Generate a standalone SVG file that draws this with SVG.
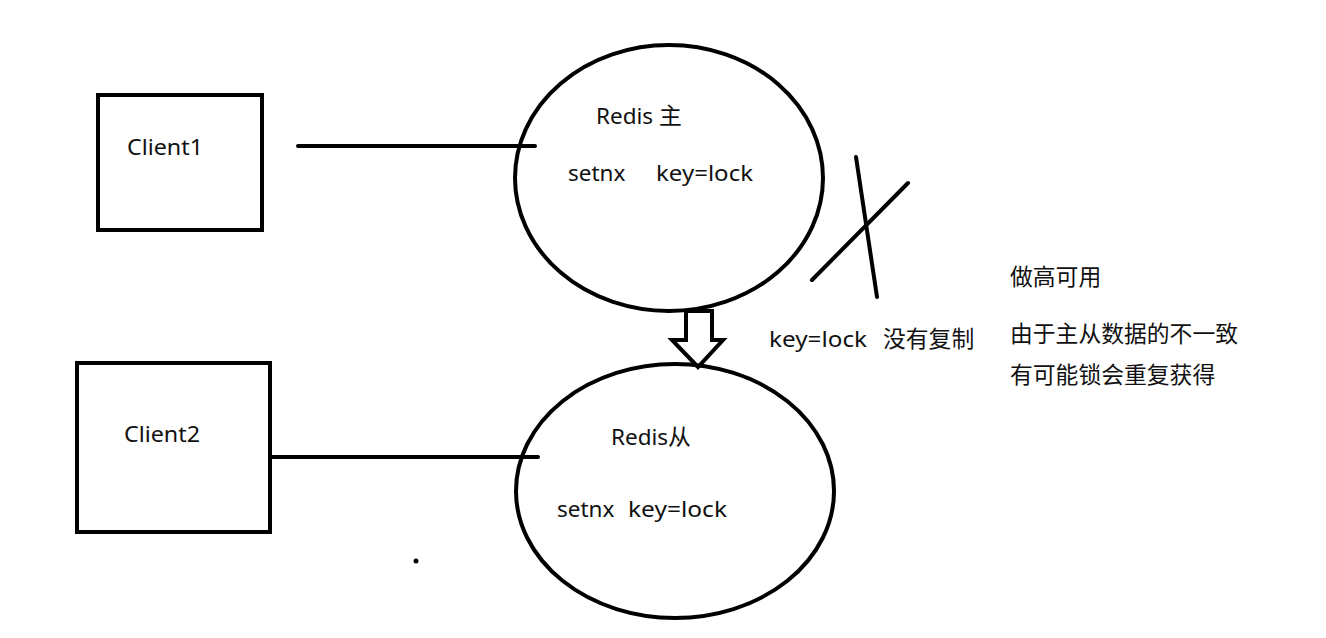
<svg xmlns="http://www.w3.org/2000/svg" width="1326" height="638" viewBox="0 0 1326 638">
<style>
.s{fill:none;stroke:#000;stroke-width:4}
.l{stroke:#000;stroke-width:4;stroke-linecap:round;fill:none}
text{font-family:"Noto Sans","Noto Sans CJK SC",sans-serif;font-size:22.5px;fill:#111}
.c{font-family:"Noto Sans CJK SC",sans-serif;font-size:22.8px}
</style>
<rect width="1326" height="638" fill="#fff"/>
<g id="client1">
<rect class="s" x="98" y="95" width="164" height="135"/>
<text x="127" y="155" textLength="76" lengthAdjust="spacingAndGlyphs">Client1</text>
</g>
<g id="client2">
<rect class="s" x="77" y="363" width="193" height="169"/>
<text x="124" y="442" textLength="76" lengthAdjust="spacingAndGlyphs">Client2</text>
</g>
<g id="redis-master">
<ellipse class="s" cx="669" cy="178" rx="154" ry="133"/>
<text x="596" y="124">Redis <tspan class="c">主</tspan></text>
<text x="568" y="181">setnx</text>
<text x="656" y="181" textLength="97" lengthAdjust="spacingAndGlyphs">key=lock</text>
</g>
<g id="redis-slave">
<ellipse class="s" cx="675" cy="491" rx="159" ry="127"/>
<text x="611" y="445">Redis<tspan class="c">从</tspan></text>
<text x="557" y="517">setnx</text>
<text x="628" y="517" textLength="99" lengthAdjust="spacingAndGlyphs">key=lock</text>
</g>
<g id="connectors">
<line class="l" x1="298" y1="146" x2="535" y2="146"/>
<line class="l" x1="272" y1="457" x2="538" y2="457"/>
<path class="s" stroke-linejoin="miter" d="M686,311 L712,311 L712,340 L723,340 L698,367 L672,340 L686,340 Z"/>
<line class="l" x1="856" y1="157" x2="877" y2="297"/>
<line class="l" x1="812" y1="280" x2="908" y2="183"/>
</g>
<g id="notes">
<text x="769" y="347" textLength="98" lengthAdjust="spacingAndGlyphs">key=lock</text>
<text class="c" x="883" y="347">没有复制</text>
<text class="c" x="1010" y="285">做高可用</text>
<text class="c" x="1010" y="342">由于主从数据的不一致</text>
<text class="c" x="1010" y="383">有可能锁会重复获得</text>
</g>
<circle cx="416" cy="561" r="2.5" fill="#000"/>
</svg>
